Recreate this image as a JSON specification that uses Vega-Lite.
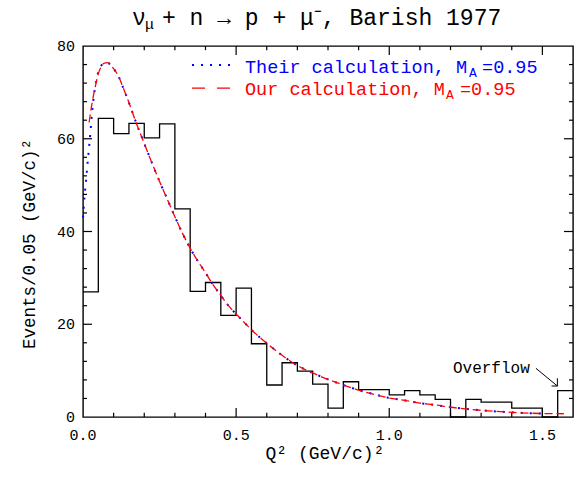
{
  "$schema": "https://vega.github.io/schema/vega-lite/v6.json",
  "width": 490,
  "height": 371,
  "autosize": {"type": "none"},
  "padding": {"left": 83, "top": 46, "right": 9, "bottom": 66},
  "background": "white",
  "config": {
    "view": {"stroke": "black", "strokeWidth": 1.4}
  },
  "datasets": {
    "hist": [
      {"q": 0, "n": 27}, {"q": 0.05, "n": 64.4}, {"q": 0.1, "n": 61.1}, {"q": 0.15, "n": 63.3}, {"q": 0.2, "n": 60.2},
      {"q": 0.25, "n": 63.2}, {"q": 0.3, "n": 44.9}, {"q": 0.35, "n": 27.1}, {"q": 0.4, "n": 29.0}, {"q": 0.45, "n": 21.9},
      {"q": 0.5, "n": 27.8}, {"q": 0.55, "n": 15.8}, {"q": 0.6, "n": 6.9}, {"q": 0.65, "n": 11.7}, {"q": 0.7, "n": 9.9},
      {"q": 0.75, "n": 7.1}, {"q": 0.8, "n": 1.9}, {"q": 0.85, "n": 7.6}, {"q": 0.9, "n": 5.9}, {"q": 0.95, "n": 5.9},
      {"q": 1.0, "n": 4.75}, {"q": 1.05, "n": 5.7}, {"q": 1.1, "n": 4.75}, {"q": 1.15, "n": 3.8}, {"q": 1.2, "n": 0},
      {"q": 1.25, "n": 3.8}, {"q": 1.3, "n": 3.2}, {"q": 1.35, "n": 3.2}, {"q": 1.4, "n": 1.9}, {"q": 1.45, "n": 1.9},
      {"q": 1.5, "n": 0}, {"q": 1.55, "n": 5.7}, {"q": 1.6, "n": 5.7}
    ],
    "their": [
      {"q": 0, "v": 43}, {"q": 0.005, "v": 47.5}, {"q": 0.01, "v": 51}, {"q": 0.015, "v": 54.8}, {"q": 0.02, "v": 58.3},
      {"q": 0.025, "v": 62}, {"q": 0.03, "v": 66}, {"q": 0.035, "v": 69}, {"q": 0.04, "v": 71.2}, {"q": 0.045, "v": 73},
      {"q": 0.05, "v": 74.4}, {"q": 0.06, "v": 75.8}, {"q": 0.07, "v": 76.4}, {"q": 0.08, "v": 76.4}, {"q": 0.09, "v": 75.9},
      {"q": 0.1, "v": 75.1}, {"q": 0.115, "v": 73.6}, {"q": 0.13, "v": 71.2}, {"q": 0.15, "v": 67.8}, {"q": 0.175, "v": 63.2},
      {"q": 0.2, "v": 59}, {"q": 0.225, "v": 54.8}, {"q": 0.25, "v": 50.8}, {"q": 0.275, "v": 47}, {"q": 0.3, "v": 43.2},
      {"q": 0.325, "v": 39.6}, {"q": 0.35, "v": 36.4}, {"q": 0.375, "v": 33.6}, {"q": 0.4, "v": 31.1}, {"q": 0.425, "v": 28.5},
      {"q": 0.45, "v": 26.2}, {"q": 0.475, "v": 24}, {"q": 0.5, "v": 22.2}, {"q": 0.525, "v": 20.5}, {"q": 0.55, "v": 18.8},
      {"q": 0.575, "v": 17.3}, {"q": 0.6, "v": 15.9}, {"q": 0.65, "v": 13.3}, {"q": 0.7, "v": 11.1}, {"q": 0.75, "v": 9.5},
      {"q": 0.8, "v": 8.1}, {"q": 0.85, "v": 6.9}, {"q": 0.9, "v": 5.8}, {"q": 0.95, "v": 4.9}, {"q": 1.0, "v": 4.1},
      {"q": 1.05, "v": 3.6}, {"q": 1.1, "v": 3.0}, {"q": 1.15, "v": 2.6}, {"q": 1.2, "v": 2.1}, {"q": 1.25, "v": 1.75},
      {"q": 1.3, "v": 1.45}, {"q": 1.35, "v": 1.2}, {"q": 1.4, "v": 1.0}, {"q": 1.45, "v": 0.85}, {"q": 1.5, "v": 0.75}
    ],
    "ours": [
      {"q": 0.02, "v": 63.5}, {"q": 0.025, "v": 65.8}, {"q": 0.03, "v": 67.8}, {"q": 0.035, "v": 69.6}, {"q": 0.04, "v": 71.2},
      {"q": 0.045, "v": 72.7}, {"q": 0.05, "v": 74}, {"q": 0.06, "v": 75.6}, {"q": 0.07, "v": 76.3}, {"q": 0.08, "v": 76.4},
      {"q": 0.09, "v": 75.9}, {"q": 0.1, "v": 75.1}, {"q": 0.115, "v": 73.6}, {"q": 0.13, "v": 71.2}, {"q": 0.15, "v": 67.8},
      {"q": 0.175, "v": 63.2}, {"q": 0.2, "v": 59}, {"q": 0.225, "v": 54.8}, {"q": 0.25, "v": 50.8}, {"q": 0.275, "v": 47},
      {"q": 0.3, "v": 43.2}, {"q": 0.325, "v": 39.6}, {"q": 0.35, "v": 36.4}, {"q": 0.375, "v": 33.6}, {"q": 0.4, "v": 31.1},
      {"q": 0.425, "v": 28.5}, {"q": 0.45, "v": 26.2}, {"q": 0.475, "v": 24}, {"q": 0.5, "v": 22.2}, {"q": 0.525, "v": 20.5},
      {"q": 0.55, "v": 18.8}, {"q": 0.575, "v": 17.3}, {"q": 0.6, "v": 15.9}, {"q": 0.65, "v": 13.3}, {"q": 0.7, "v": 11.1},
      {"q": 0.75, "v": 9.5}, {"q": 0.8, "v": 8.1}, {"q": 0.85, "v": 6.9}, {"q": 0.9, "v": 5.8}, {"q": 0.95, "v": 4.9},
      {"q": 1.0, "v": 4.1}, {"q": 1.05, "v": 3.6}, {"q": 1.1, "v": 3.0}, {"q": 1.15, "v": 2.6}, {"q": 1.2, "v": 2.1},
      {"q": 1.25, "v": 1.75}, {"q": 1.3, "v": 1.45}, {"q": 1.35, "v": 1.2}, {"q": 1.4, "v": 1.0}, {"q": 1.45, "v": 0.85},
      {"q": 1.5, "v": 0.75}, {"q": 1.57, "v": 0.7}
    ],
    "xlab": [{"t": 0}, {"t": 0.5}, {"t": 1.0}, {"t": 1.5}],
    "ylab": [{"t": 0}, {"t": 20}, {"t": 40}, {"t": 60}, {"t": 80}],
    "xmajor": [{"t": 0.5}, {"t": 1.0}, {"t": 1.5}],
    "xminor": [{"t": 0.1}, {"t": 0.2}, {"t": 0.3}, {"t": 0.4}, {"t": 0.6}, {"t": 0.7}, {"t": 0.8}, {"t": 0.9}, {"t": 1.1}, {"t": 1.2}, {"t": 1.3}, {"t": 1.4}],
    "ymajor": [{"t": 20}, {"t": 40}, {"t": 60}],
    "yminor": [{"t": 4}, {"t": 8}, {"t": 12}, {"t": 16}, {"t": 24}, {"t": 28}, {"t": 32}, {"t": 36}, {"t": 44}, {"t": 48}, {"t": 52}, {"t": 56}, {"t": 64}, {"t": 68}, {"t": 72}, {"t": 76}],
    "one": [{}]
  },
  "layer": [
    {
      "data": {"name": "hist"},
      "mark": {"type": "line", "interpolate": "step-after", "color": "black", "strokeWidth": 1.3},
      "encoding": {
        "x": {"field": "q", "type": "quantitative", "scale": {"domain": [0, 1.6], "nice": false, "zero": false}, "axis": null},
        "y": {"field": "n", "type": "quantitative", "scale": {"domain": [0, 80], "nice": false, "zero": false}, "axis": null}
      }
    },
    {
      "data": {"name": "xmajor"},
      "mark": {"type": "rule", "color": "black", "strokeWidth": 1.2},
      "encoding": {"x": {"field": "t", "type": "quantitative", "axis": null}, "y": {"datum": 0, "type": "quantitative", "axis": null}, "y2": {"datum": 1.94}}
    },
    {
      "data": {"name": "xmajor"},
      "mark": {"type": "rule", "color": "black", "strokeWidth": 1.2},
      "encoding": {"x": {"field": "t", "type": "quantitative", "axis": null}, "y": {"datum": 80, "type": "quantitative", "axis": null}, "y2": {"datum": 78.06}}
    },
    {
      "data": {"name": "xminor"},
      "mark": {"type": "rule", "color": "black", "strokeWidth": 1.2},
      "encoding": {"x": {"field": "t", "type": "quantitative", "axis": null}, "y": {"datum": 0, "type": "quantitative", "axis": null}, "y2": {"datum": 0.9}}
    },
    {
      "data": {"name": "xminor"},
      "mark": {"type": "rule", "color": "black", "strokeWidth": 1.2},
      "encoding": {"x": {"field": "t", "type": "quantitative", "axis": null}, "y": {"datum": 80, "type": "quantitative", "axis": null}, "y2": {"datum": 79.1}}
    },
    {
      "data": {"name": "ymajor"},
      "mark": {"type": "rule", "color": "black", "strokeWidth": 1.2},
      "encoding": {"y": {"field": "t", "type": "quantitative", "axis": null}, "x": {"datum": 0, "type": "quantitative", "axis": null}, "x2": {"datum": 0.0294}}
    },
    {
      "data": {"name": "ymajor"},
      "mark": {"type": "rule", "color": "black", "strokeWidth": 1.2},
      "encoding": {"y": {"field": "t", "type": "quantitative", "axis": null}, "x": {"datum": 1.6, "type": "quantitative", "axis": null}, "x2": {"datum": 1.5706}}
    },
    {
      "data": {"name": "yminor"},
      "mark": {"type": "rule", "color": "black", "strokeWidth": 1.2},
      "encoding": {"y": {"field": "t", "type": "quantitative", "axis": null}, "x": {"datum": 0, "type": "quantitative", "axis": null}, "x2": {"datum": 0.0131}}
    },
    {
      "data": {"name": "yminor"},
      "mark": {"type": "rule", "color": "black", "strokeWidth": 1.2},
      "encoding": {"y": {"field": "t", "type": "quantitative", "axis": null}, "x": {"datum": 1.6, "type": "quantitative", "axis": null}, "x2": {"datum": 1.5869}}
    },
    {
      "data": {"name": "xlab"},
      "mark": {"type": "text", "font": "Liberation Mono", "fontSize": 15, "align": "center", "baseline": "alphabetic", "color": "black"},
      "encoding": {"x": {"field": "t", "type": "quantitative", "axis": null}, "y": {"datum": -4.96, "type": "quantitative", "axis": null}, "text": {"field": "t", "type": "quantitative", "format": ".1f"}}
    },
    {
      "data": {"name": "ylab"},
      "mark": {"type": "text", "font": "Liberation Mono", "fontSize": 15, "align": "right", "baseline": "middle", "color": "black"},
      "encoding": {"y": {"field": "t", "type": "quantitative", "axis": null}, "x": {"datum": -0.0261, "type": "quantitative", "axis": null}, "text": {"field": "t", "type": "quantitative", "format": "d"}}
    },
    {
      "data": {"name": "one"},
      "mark": {"type": "text", "text": "Q² (GeV/c)²", "font": "Liberation Mono", "fontSize": 18, "align": "center", "baseline": "alphabetic", "color": "black"},
      "encoding": {"x": {"datum": 0.79, "type": "quantitative", "axis": null}, "y": {"datum": -9.06, "type": "quantitative", "axis": null}}
    },
    {
      "data": {"name": "one"},
      "mark": {"type": "text", "text": "Events/0.05 (GeV/c)²", "font": "Liberation Mono", "fontSize": 17.5, "angle": 270, "align": "center", "baseline": "alphabetic", "color": "black"},
      "encoding": {"x": {"datum": -0.1567, "type": "quantitative", "axis": null}, "y": {"datum": 37.3, "type": "quantitative", "axis": null}}
    },
    {
      "data": {"name": "their"},
      "mark": {"type": "line", "color": "#0000ff", "strokeWidth": 2, "strokeDash": [2, 7], "strokeCap": "butt", "interpolate": "monotone"},
      "encoding": {
        "x": {"field": "q", "type": "quantitative", "axis": null},
        "y": {"field": "v", "type": "quantitative", "axis": null}
      }
    },
    {
      "data": {"name": "ours"},
      "mark": {"type": "line", "color": "#ff0000", "strokeWidth": 1.3, "strokeDash": [8, 4], "interpolate": "monotone"},
      "encoding": {
        "x": {"field": "q", "type": "quantitative", "axis": null},
        "y": {"field": "v", "type": "quantitative", "axis": null}
      }
    },
    {
      "data": {"name": "one"},
      "mark": {"type": "rule", "color": "#0000ff", "strokeWidth": 2, "strokeDash": [2, 7], "strokeCap": "butt"},
      "encoding": {
        "x": {"datum": 0.356, "type": "quantitative", "axis": null},
        "x2": {"datum": 0.503},
        "y": {"datum": 75.9, "type": "quantitative", "axis": null}
      }
    },
    {
      "data": {"name": "one"},
      "mark": {"type": "rule", "color": "#ff0000", "strokeWidth": 1.3, "strokeDash": [13, 12]},
      "encoding": {
        "x": {"datum": 0.356, "type": "quantitative", "axis": null},
        "x2": {"datum": 0.4865},
        "y": {"datum": 70.9, "type": "quantitative", "axis": null}
      }
    },
    {
      "data": {"name": "one"},
      "mark": {"type": "text", "text": "ν", "font": "Liberation Mono", "fontSize": 23, "align": "left", "baseline": "alphabetic", "color": "black"},
      "encoding": {"x": {"datum": 0.16, "type": "quantitative", "axis": null}, "y": {"datum": 84.53, "type": "quantitative", "axis": null}}
    },
    {
      "data": {"name": "one"},
      "mark": {"type": "text", "text": "μ", "font": "Liberation Mono", "fontSize": 15, "align": "left", "baseline": "alphabetic", "color": "black"},
      "encoding": {"x": {"datum": 0.2024, "type": "quantitative", "axis": null}, "y": {"datum": 83.67, "type": "quantitative", "axis": null}}
    },
    {
      "data": {"name": "one"},
      "mark": {"type": "text", "text": "+ n → p + μ⁻, Barish 1977", "font": "Liberation Mono", "fontSize": 23, "align": "left", "baseline": "alphabetic", "color": "black"},
      "encoding": {"x": {"datum": 0.258, "type": "quantitative", "axis": null}, "y": {"datum": 84.53, "type": "quantitative", "axis": null}}
    },
    {
      "data": {"name": "one"},
      "mark": {"type": "text", "text": "Their calculation, M", "font": "Liberation Mono", "fontSize": 18.5, "align": "left", "baseline": "alphabetic", "color": "#0000ff"},
      "encoding": {"x": {"datum": 0.529, "type": "quantitative", "axis": null}, "y": {"datum": 74.11, "type": "quantitative", "axis": null}}
    },
    {
      "data": {"name": "one"},
      "mark": {"type": "text", "text": "A", "font": "Liberation Mono", "fontSize": 13, "align": "left", "baseline": "alphabetic", "color": "#0000ff"},
      "encoding": {"x": {"datum": 1.26, "type": "quantitative", "axis": null}, "y": {"datum": 73.3, "type": "quantitative", "axis": null}}
    },
    {
      "data": {"name": "one"},
      "mark": {"type": "text", "text": "=0.95", "font": "Liberation Mono", "fontSize": 18.5, "align": "left", "baseline": "alphabetic", "color": "#0000ff"},
      "encoding": {"x": {"datum": 1.303, "type": "quantitative", "axis": null}, "y": {"datum": 74.11, "type": "quantitative", "axis": null}}
    },
    {
      "data": {"name": "one"},
      "mark": {"type": "text", "text": "Our calculation, M", "font": "Liberation Mono", "fontSize": 18.5, "align": "left", "baseline": "alphabetic", "color": "#ff0000"},
      "encoding": {"x": {"datum": 0.529, "type": "quantitative", "axis": null}, "y": {"datum": 69.43, "type": "quantitative", "axis": null}}
    },
    {
      "data": {"name": "one"},
      "mark": {"type": "text", "text": "A", "font": "Liberation Mono", "fontSize": 13, "align": "left", "baseline": "alphabetic", "color": "#ff0000"},
      "encoding": {"x": {"datum": 1.185, "type": "quantitative", "axis": null}, "y": {"datum": 68.6, "type": "quantitative", "axis": null}}
    },
    {
      "data": {"name": "one"},
      "mark": {"type": "text", "text": "=0.95", "font": "Liberation Mono", "fontSize": 18.5, "align": "left", "baseline": "alphabetic", "color": "#ff0000"},
      "encoding": {"x": {"datum": 1.231, "type": "quantitative", "axis": null}, "y": {"datum": 69.43, "type": "quantitative", "axis": null}}
    },
    {
      "data": {"name": "one"},
      "mark": {"type": "text", "text": "Overflow", "font": "Liberation Mono", "fontSize": 16, "align": "left", "baseline": "alphabetic", "color": "black"},
      "encoding": {"x": {"datum": 1.208, "type": "quantitative", "axis": null}, "y": {"datum": 9.55, "type": "quantitative", "axis": null}}
    },
    {
      "data": {"name": "one"},
      "mark": {"type": "rule", "color": "black", "strokeWidth": 1},
      "encoding": {"x": {"datum": 1.479, "type": "quantitative", "axis": null}, "x2": {"datum": 1.549}, "y": {"datum": 10.5, "type": "quantitative", "axis": null}, "y2": {"datum": 6.68}}
    },
    {
      "data": {"name": "one"},
      "mark": {"type": "rule", "color": "black", "strokeWidth": 1},
      "encoding": {"x": {"datum": 1.53, "type": "quantitative", "axis": null}, "x2": {"datum": 1.549}, "y": {"datum": 6.68, "type": "quantitative", "axis": null}}
    },
    {
      "data": {"name": "one"},
      "mark": {"type": "rule", "color": "black", "strokeWidth": 1},
      "encoding": {"x": {"datum": 1.549, "type": "quantitative", "axis": null}, "y": {"datum": 6.68, "type": "quantitative", "axis": null}, "y2": {"datum": 8.34}}
    }
  ]
}
